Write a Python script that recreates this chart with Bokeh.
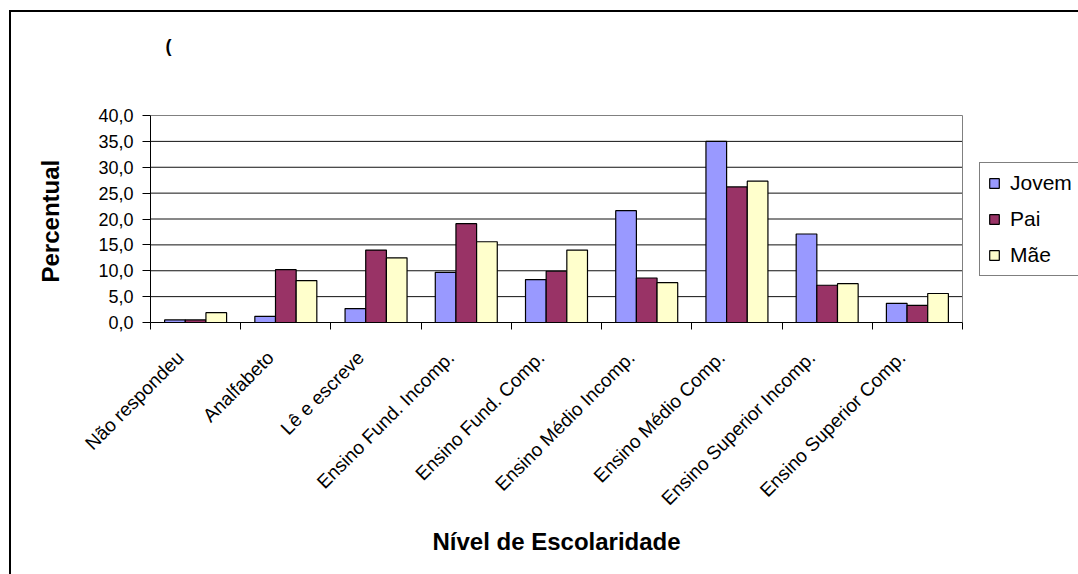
import math
from bokeh.plotting import figure
from bokeh.models import (ColumnDataSource, Range1d, FixedTicker, Legend, LegendItem, Label, Title)
from bokeh.transform import dodge
from bokeh.embed import file_html
from bokeh.resources import INLINE

# ---- data ----
categories = ["Não respondeu", "Analfabeto", "Lê e escreve", "Ensino Fund. Incomp.",
              "Ensino Fund. Comp.", "Ensino Médio Incomp.", "Ensino Médio Comp.",
              "Ensino Superior Incomp.", "Ensino Superior Comp."]
jovem = [0.5, 1.2, 2.7, 9.7, 8.3, 21.6, 35.0, 17.1, 3.7]
pai = [0.5, 10.2, 14.0, 19.1, 9.9, 8.6, 26.2, 7.2, 3.3]
mae = [1.9, 8.1, 12.5, 15.6, 14.0, 7.7, 27.3, 7.5, 5.6]
series_names = ["Jovem", "Pai", "Mãe"]
series_colors = ["#9999FF", "#993366", "#FFFFCC"]
y_ticks = [0, 5, 10, 15, 20, 25, 30, 35, 40]
y_label = "Percentual"
x_label = "Nível de Escolaridade"
title_text = "("

FONT = "Liberation Sans"
N = len(categories)
Y_MAX = 40

# layout geometry (pixels)
W, H = 1078, 574
LEFT, PLOT_R, AXIS_Y, PLOT_TOP = 150, 962, 322, 115
x_end = N * (W - LEFT) / (PLOT_R - LEFT)          # frame runs to the right edge (legend lives there)
y_end = Y_MAX * AXIS_Y / (AXIS_Y - PLOT_TOP)       # frame runs to the top edge (title lives there)
px_x = N / (PLOT_R - LEFT)
px_y = Y_MAX / (AXIS_Y - PLOT_TOP)

centers = [i + 0.5 for i in range(N)]
source = ColumnDataSource(dict(xc=centers, Jovem=jovem, Pai=pai, Mae=mae))
cols = ["Jovem", "Pai", "Mae"]

p = figure(width=W, height=H, x_range=Range1d(0, x_end), y_range=Range1d(0, y_end),
           output_backend="svg", toolbar_location=None,
           min_border_left=LEFT, min_border_right=0, min_border_top=0,
           min_border_bottom=H - AXIS_Y)
p.background_fill_alpha = 0
p.border_fill_alpha = 0
p.outline_line_color = None
# outer black frame (top and left edges visible in the window)
p.styles = {
    "background-color": "white",
    "background-image": "linear-gradient(#000,#000), linear-gradient(#000,#000)",
    "background-size": "2px 100%, 100% 2px",
    "background-position": "9px 10px, 9px 10px",
    "background-repeat": "no-repeat",
}

# gridlines and plot-area border (limited to the plot area)
grid_y = y_ticks[1:-1]
p.segment(x0=[0] * len(grid_y), x1=[N] * len(grid_y), y0=grid_y, y1=grid_y,
          line_color="#111111", line_width=1)
p.segment(x0=[0, N], x1=[N, N], y0=[Y_MAX, 0], y1=[Y_MAX, Y_MAX],
          line_color="#808080", line_width=1)

bw = 0.229
renderers = []
for k, (col, color) in enumerate(zip(cols, series_colors)):
    r = p.vbar(x=dodge("xc", (k - 1) * bw, range=p.x_range), top=col, width=bw, bottom=0,
               source=source, fill_color=color, line_color="black", line_width=1.2)
    renderers.append(r)

p.xgrid.visible = False
p.ygrid.visible = False

# y axis
ya = p.yaxis[0]
ya.bounds = (0, Y_MAX)
ya.ticker = FixedTicker(ticks=y_ticks)
ya.major_label_overrides = {t: f"{t:.1f}".replace(".", ",") for t in y_ticks}
ya.major_tick_out = 8
ya.major_tick_in = 0
ya.minor_tick_line_color = None
ya.axis_line_color = "black"
ya.major_tick_line_color = "black"
ya.major_label_text_font = FONT
ya.major_label_text_font_size = "18px"
ya.major_label_text_color = "black"
ya.major_label_standoff = 9

# x axis (labels under category centres, tick marks at category borders)
label_shift = -0.17
xa = p.xaxis[0]
xa.bounds = (0, N)
xa.ticker = FixedTicker(ticks=[c + label_shift for c in centers],
                        minor_ticks=list(range(N + 1)))
xa.major_label_overrides = {c + label_shift: name for c, name in zip(centers, categories)}
xa.major_label_orientation = math.pi / 4
xa.major_tick_line_color = None
xa.major_tick_out = 0
xa.major_tick_in = 0
xa.minor_tick_out = 7
xa.minor_tick_in = 0
xa.minor_tick_line_color = "black"
xa.axis_line_color = "black"
xa.major_label_text_font = FONT
xa.major_label_text_font_size = "19px"
xa.major_label_text_color = "black"
xa.major_label_standoff = 25

# axis titles, placed in the side panels next to the axes
p.add_layout(Title(text=y_label, align="left", offset=40, vertical_align="bottom", standoff=64,
                   text_font=FONT, text_font_size="24px", text_font_style="bold",
                   text_color="black"), "left")
p.add_layout(Title(text=x_label, align="left", offset=282, vertical_align="top", standoff=16,
                   text_font=FONT, text_font_size="24px", text_font_style="bold",
                   text_color="black"), "below")

# chart title (only its opening bracket is visible in the original)
p.add_layout(Label(x=(168 - LEFT) * px_x, y=(AXIS_Y - 45) * px_y, text=title_text,
                   text_align="center", text_baseline="middle", text_font=FONT,
                   text_font_size="18px", text_font_style="bold", text_color="black"))

legend = Legend(items=[LegendItem(label=n, renderers=[r]) for n, r in zip(series_names, renderers)],
                location=(829, 46), orientation="vertical",
                label_text_font=FONT, label_text_font_size="21px", label_text_color="black",
                glyph_width=12, glyph_height=12, label_standoff=10, padding=8, spacing=12,
                label_height=22, label_width=120, margin=0,
                border_line_color="black", border_line_width=1, background_fill_color="white",
                background_fill_alpha=1)
p.add_layout(legend, "center")

open("out.html", "w").write(file_html(p, INLINE))
